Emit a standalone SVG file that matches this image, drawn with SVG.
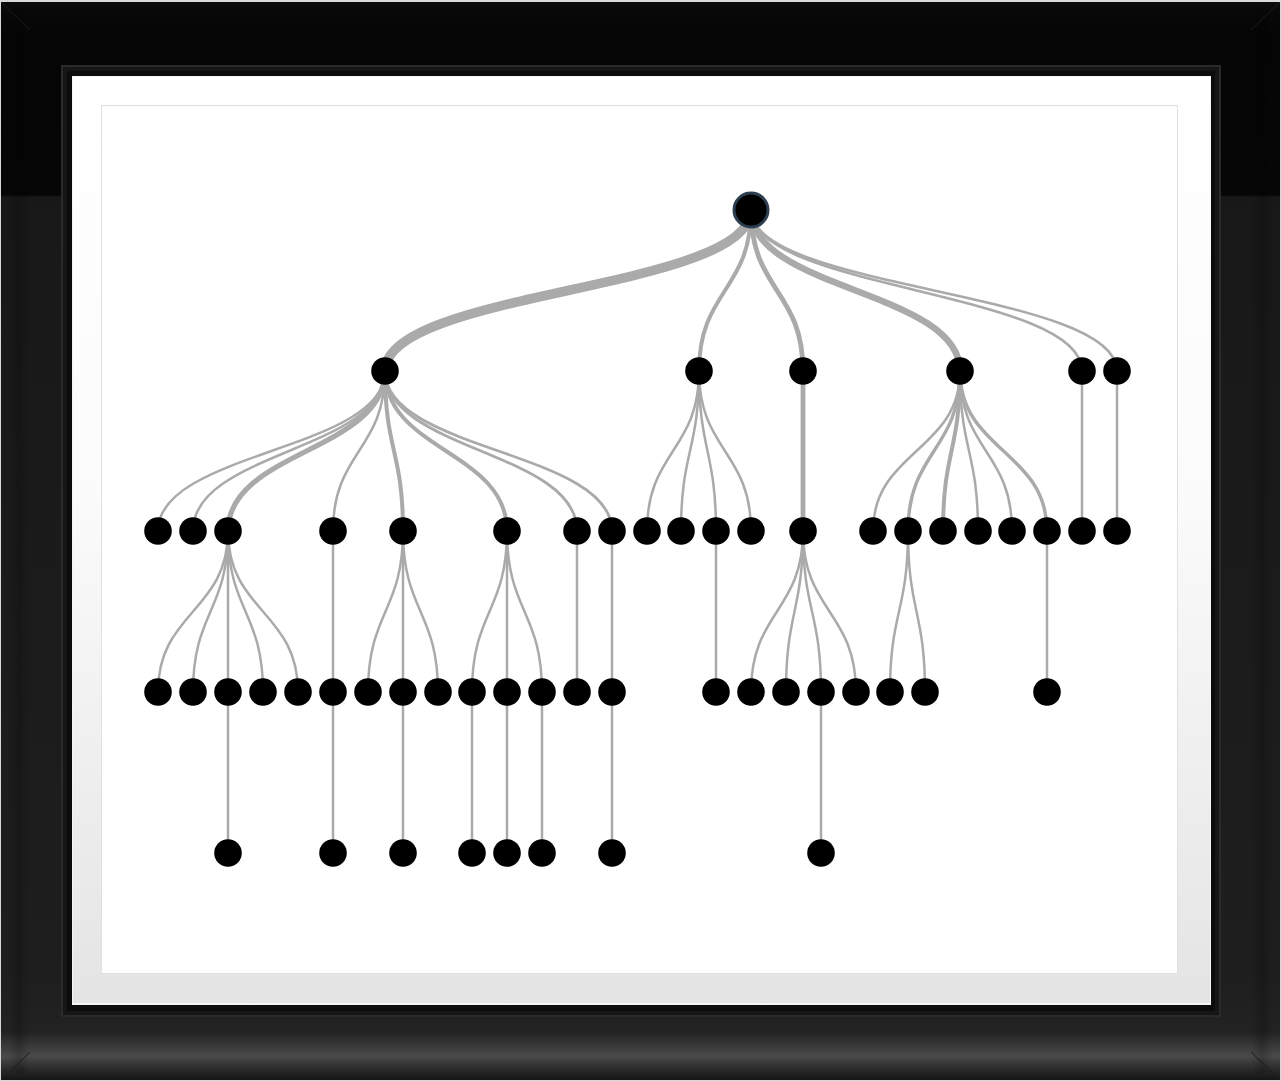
<svg xmlns="http://www.w3.org/2000/svg" width="1281" height="1081" viewBox="0 0 1281 1081">
<defs>
<linearGradient id="frameG" x1="0" y1="0" x2="0" y2="1">
<stop offset="0" stop-color="#0a0a0a"/>
<stop offset="0.03" stop-color="#050505"/>
<stop offset="0.179" stop-color="#060606"/>
<stop offset="0.181" stop-color="#181818"/>
<stop offset="0.9" stop-color="#1e1e1e"/>
<stop offset="0.955" stop-color="#222"/>
<stop offset="0.978" stop-color="#4a4a4a"/>
<stop offset="0.99" stop-color="#2a2a2a"/>
<stop offset="1" stop-color="#151515"/>
</linearGradient>
<linearGradient id="matG" x1="0" y1="0" x2="0" y2="1">
<stop offset="0" stop-color="#ffffff"/>
<stop offset="0.45" stop-color="#fbfbfb"/>
<stop offset="1" stop-color="#e4e4e4"/>
</linearGradient>
<linearGradient id="sideL" x1="0" y1="0" x2="1" y2="0">
<stop offset="0" stop-color="#000" stop-opacity="0"/>
<stop offset="0.5" stop-color="#000" stop-opacity="0.2"/>
<stop offset="1" stop-color="#000" stop-opacity="0"/>
</linearGradient>
<style>
.lk{fill:none;stroke:#aaaaaa;stroke-linecap:butt}
.nd{fill:#000}
.rt{fill:#000;stroke:#2c3e50;stroke-width:3}
</style>
</defs>
<rect width="1281" height="1081" fill="#d9d9d9"/>
<rect x="1" y="2" width="1279" height="1078" fill="url(#frameG)"/>
<rect x="8" y="8" width="22" height="1065" fill="url(#sideL)"/>
<rect x="1251" y="8" width="22" height="1065" fill="url(#sideL)"/>
<path d="M1,2 L30,30 M1280,2 L1251,30 M1,1080 L30,1052 M1280,1080 L1251,1052" stroke="#1c1c1c" stroke-width="1"/>
<rect x="62" y="66" width="1158" height="950" fill="#161616" stroke="#2a2a2a" stroke-width="2"/>
<rect x="67" y="71" width="1148" height="940" fill="#0c0c0c"/>
<rect x="72" y="76" width="1139" height="929" fill="#f4f4f4"/>
<rect x="73" y="77" width="1137" height="926" fill="url(#matG)"/>
<rect x="101.5" y="105.5" width="1076" height="868" fill="#ffffff" stroke="#e0e0dc" stroke-width="1"/>
<g id="connectors">
<path class="lk" style="stroke-width:9.5" d="M751,210 C751,290.5 385,290.5 385,371"/>
<path class="lk" style="stroke-width:4" d="M751,210 C751,290.5 699,290.5 699,371"/>
<path class="lk" style="stroke-width:4.8" d="M751,210 C751,290.5 803,290.5 803,371"/>
<path class="lk" style="stroke-width:6.5" d="M751,210 C751,290.5 960,290.5 960,371"/>
<path class="lk" style="stroke-width:2.6" d="M751,210 C751,290.5 1082,290.5 1082,371"/>
<path class="lk" style="stroke-width:2.6" d="M751,210 C751,290.5 1117,290.5 1117,371"/>
<path class="lk" style="stroke-width:2.5" d="M385,371 C385,451 158,451 158,531"/>
<path class="lk" style="stroke-width:2.5" d="M385,371 C385,451 193,451 193,531"/>
<path class="lk" style="stroke-width:5.2" d="M385,371 C385,451 228,451 228,531"/>
<path class="lk" style="stroke-width:2.5" d="M385,371 C385,451 333,451 333,531"/>
<path class="lk" style="stroke-width:4" d="M385,371 C385,451 403,451 403,531"/>
<path class="lk" style="stroke-width:4" d="M385,371 C385,451 507,451 507,531"/>
<path class="lk" style="stroke-width:2.8" d="M385,371 C385,451 577,451 577,531"/>
<path class="lk" style="stroke-width:2.8" d="M385,371 C385,451 612,451 612,531"/>
<path class="lk" style="stroke-width:2.5" d="M699,371 C699,451 647,451 647,531"/>
<path class="lk" style="stroke-width:2.5" d="M699,371 C699,451 681,451 681,531"/>
<path class="lk" style="stroke-width:2.5" d="M699,371 C699,451 716,451 716,531"/>
<path class="lk" style="stroke-width:2.5" d="M699,371 C699,451 751,451 751,531"/>
<path class="lk" style="stroke-width:4.8" d="M803,371 C803,451 803,451 803,531"/>
<path class="lk" style="stroke-width:2.5" d="M960,371 C960,451 873,451 873,531"/>
<path class="lk" style="stroke-width:3.4" d="M960,371 C960,451 908,451 908,531"/>
<path class="lk" style="stroke-width:4" d="M960,371 C960,451 943,451 943,531"/>
<path class="lk" style="stroke-width:2.5" d="M960,371 C960,451 978,451 978,531"/>
<path class="lk" style="stroke-width:2.5" d="M960,371 C960,451 1012,451 1012,531"/>
<path class="lk" style="stroke-width:3.4" d="M960,371 C960,451 1047,451 1047,531"/>
<path class="lk" style="stroke-width:2.5" d="M1082,371 C1082,451 1082,451 1082,531"/>
<path class="lk" style="stroke-width:2.5" d="M1117,371 C1117,451 1117,451 1117,531"/>
<path class="lk" style="stroke-width:2.5" d="M228,531 C228,611.5 158,611.5 158,692"/>
<path class="lk" style="stroke-width:2.5" d="M228,531 C228,611.5 193,611.5 193,692"/>
<path class="lk" style="stroke-width:2.5" d="M228,531 C228,611.5 228,611.5 228,692"/>
<path class="lk" style="stroke-width:2.5" d="M228,531 C228,611.5 263,611.5 263,692"/>
<path class="lk" style="stroke-width:2.5" d="M228,531 C228,611.5 298,611.5 298,692"/>
<path class="lk" style="stroke-width:2.5" d="M333,531 C333,611.5 333,611.5 333,692"/>
<path class="lk" style="stroke-width:2.5" d="M403,531 C403,611.5 368,611.5 368,692"/>
<path class="lk" style="stroke-width:2.5" d="M403,531 C403,611.5 403,611.5 403,692"/>
<path class="lk" style="stroke-width:2.5" d="M403,531 C403,611.5 438,611.5 438,692"/>
<path class="lk" style="stroke-width:2.5" d="M507,531 C507,611.5 472,611.5 472,692"/>
<path class="lk" style="stroke-width:2.5" d="M507,531 C507,611.5 507,611.5 507,692"/>
<path class="lk" style="stroke-width:2.5" d="M507,531 C507,611.5 542,611.5 542,692"/>
<path class="lk" style="stroke-width:2.5" d="M577,531 C577,611.5 577,611.5 577,692"/>
<path class="lk" style="stroke-width:2.5" d="M612,531 C612,611.5 612,611.5 612,692"/>
<path class="lk" style="stroke-width:2.5" d="M716,531 C716,611.5 716,611.5 716,692"/>
<path class="lk" style="stroke-width:2.5" d="M803,531 C803,611.5 751,611.5 751,692"/>
<path class="lk" style="stroke-width:2.5" d="M803,531 C803,611.5 786,611.5 786,692"/>
<path class="lk" style="stroke-width:2.5" d="M803,531 C803,611.5 821,611.5 821,692"/>
<path class="lk" style="stroke-width:2.5" d="M803,531 C803,611.5 856,611.5 856,692"/>
<path class="lk" style="stroke-width:2.5" d="M908,531 C908,611.5 890,611.5 890,692"/>
<path class="lk" style="stroke-width:2.5" d="M908,531 C908,611.5 925,611.5 925,692"/>
<path class="lk" style="stroke-width:2.5" d="M1047,531 C1047,611.5 1047,611.5 1047,692"/>
<path class="lk" style="stroke-width:2.5" d="M228,692 L228,853"/>
<path class="lk" style="stroke-width:2.5" d="M333,692 L333,853"/>
<path class="lk" style="stroke-width:2.5" d="M403,692 L403,853"/>
<path class="lk" style="stroke-width:2.5" d="M472,692 L472,853"/>
<path class="lk" style="stroke-width:2.5" d="M507,692 L507,853"/>
<path class="lk" style="stroke-width:2.5" d="M542,692 L542,853"/>
<path class="lk" style="stroke-width:2.5" d="M612,692 L612,853"/>
<path class="lk" style="stroke-width:2.5" d="M821,692 L821,853"/>
</g>
<g id="n-root"><circle class="rt" cx="751" cy="210" r="17"/></g>
<g id="n1-385"><circle class="nd" cx="385" cy="371" r="13.8"/></g>
<g id="n1-699"><circle class="nd" cx="699" cy="371" r="13.8"/></g>
<g id="n1-803"><circle class="nd" cx="803" cy="371" r="13.8"/></g>
<g id="n1-960"><circle class="nd" cx="960" cy="371" r="13.8"/></g>
<g id="n1-1082"><circle class="nd" cx="1082" cy="371" r="13.8"/></g>
<g id="n1-1117"><circle class="nd" cx="1117" cy="371" r="13.8"/></g>
<g id="n2-158"><circle class="nd" cx="158" cy="531" r="13.8"/></g>
<g id="n2-193"><circle class="nd" cx="193" cy="531" r="13.8"/></g>
<g id="n2-228"><circle class="nd" cx="228" cy="531" r="13.8"/></g>
<g id="n2-333"><circle class="nd" cx="333" cy="531" r="13.8"/></g>
<g id="n2-403"><circle class="nd" cx="403" cy="531" r="13.8"/></g>
<g id="n2-507"><circle class="nd" cx="507" cy="531" r="13.8"/></g>
<g id="n2-577"><circle class="nd" cx="577" cy="531" r="13.8"/></g>
<g id="n2-612"><circle class="nd" cx="612" cy="531" r="13.8"/></g>
<g id="n2-647"><circle class="nd" cx="647" cy="531" r="13.8"/></g>
<g id="n2-681"><circle class="nd" cx="681" cy="531" r="13.8"/></g>
<g id="n2-716"><circle class="nd" cx="716" cy="531" r="13.8"/></g>
<g id="n2-751"><circle class="nd" cx="751" cy="531" r="13.8"/></g>
<g id="n2-803"><circle class="nd" cx="803" cy="531" r="13.8"/></g>
<g id="n2-873"><circle class="nd" cx="873" cy="531" r="13.8"/></g>
<g id="n2-908"><circle class="nd" cx="908" cy="531" r="13.8"/></g>
<g id="n2-943"><circle class="nd" cx="943" cy="531" r="13.8"/></g>
<g id="n2-978"><circle class="nd" cx="978" cy="531" r="13.8"/></g>
<g id="n2-1012"><circle class="nd" cx="1012" cy="531" r="13.8"/></g>
<g id="n2-1047"><circle class="nd" cx="1047" cy="531" r="13.8"/></g>
<g id="n2-1082"><circle class="nd" cx="1082" cy="531" r="13.8"/></g>
<g id="n2-1117"><circle class="nd" cx="1117" cy="531" r="13.8"/></g>
<g id="n3-158"><circle class="nd" cx="158" cy="692" r="13.8"/></g>
<g id="n3-193"><circle class="nd" cx="193" cy="692" r="13.8"/></g>
<g id="n3-228"><circle class="nd" cx="228" cy="692" r="13.8"/></g>
<g id="n3-263"><circle class="nd" cx="263" cy="692" r="13.8"/></g>
<g id="n3-298"><circle class="nd" cx="298" cy="692" r="13.8"/></g>
<g id="n3-333"><circle class="nd" cx="333" cy="692" r="13.8"/></g>
<g id="n3-368"><circle class="nd" cx="368" cy="692" r="13.8"/></g>
<g id="n3-403"><circle class="nd" cx="403" cy="692" r="13.8"/></g>
<g id="n3-438"><circle class="nd" cx="438" cy="692" r="13.8"/></g>
<g id="n3-472"><circle class="nd" cx="472" cy="692" r="13.8"/></g>
<g id="n3-507"><circle class="nd" cx="507" cy="692" r="13.8"/></g>
<g id="n3-542"><circle class="nd" cx="542" cy="692" r="13.8"/></g>
<g id="n3-577"><circle class="nd" cx="577" cy="692" r="13.8"/></g>
<g id="n3-612"><circle class="nd" cx="612" cy="692" r="13.8"/></g>
<g id="n3-716"><circle class="nd" cx="716" cy="692" r="13.8"/></g>
<g id="n3-751"><circle class="nd" cx="751" cy="692" r="13.8"/></g>
<g id="n3-786"><circle class="nd" cx="786" cy="692" r="13.8"/></g>
<g id="n3-821"><circle class="nd" cx="821" cy="692" r="13.8"/></g>
<g id="n3-856"><circle class="nd" cx="856" cy="692" r="13.8"/></g>
<g id="n3-890"><circle class="nd" cx="890" cy="692" r="13.8"/></g>
<g id="n3-925"><circle class="nd" cx="925" cy="692" r="13.8"/></g>
<g id="n3-1047"><circle class="nd" cx="1047" cy="692" r="13.8"/></g>
<g id="n4-228"><circle class="nd" cx="228" cy="853" r="13.8"/></g>
<g id="n4-333"><circle class="nd" cx="333" cy="853" r="13.8"/></g>
<g id="n4-403"><circle class="nd" cx="403" cy="853" r="13.8"/></g>
<g id="n4-472"><circle class="nd" cx="472" cy="853" r="13.8"/></g>
<g id="n4-507"><circle class="nd" cx="507" cy="853" r="13.8"/></g>
<g id="n4-542"><circle class="nd" cx="542" cy="853" r="13.8"/></g>
<g id="n4-612"><circle class="nd" cx="612" cy="853" r="13.8"/></g>
<g id="n4-821"><circle class="nd" cx="821" cy="853" r="13.8"/></g>
</svg>
